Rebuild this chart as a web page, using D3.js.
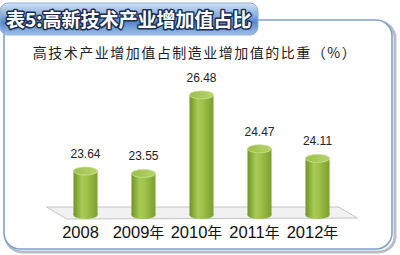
<!DOCTYPE html>
<html>
<head>
<meta charset="utf-8">
<script src="https://cdn.jsdelivr.net/npm/d3@7"></script>
<style>
  body { margin: 0; background: #fff; }
  svg { display: block; }
</style>
</head>
<body>
<div id="chart"></div>
<script>
// data
var years = ["2008", "2009年", "2010年", "2011年", "2012年"];
var values = [23.64, 23.55, 26.48, 24.47, 24.11];
var titleText = "表5:高新技术产业增加值占比";
var subTitle = "高技术产业增加值占制造业增加值的比重（%）";

var width = 400, height = 255;
var svg = d3.select("#chart").append("svg")
    .attr("width", width)
    .attr("height", height);

var defs = svg.append("defs");

// cylinder body gradient
var bodyGrad = defs.append("linearGradient").attr("id", "barBody")
    .attr("x1", "0%").attr("x2", "100%").attr("y1", "0%").attr("y2", "0%");
bodyGrad.append("stop").attr("offset", "0%").attr("stop-color", "#6f9426");
bodyGrad.append("stop").attr("offset", "35%").attr("stop-color", "#a9cb56");
bodyGrad.append("stop").attr("offset", "55%").attr("stop-color", "#9fc24a");
bodyGrad.append("stop").attr("offset", "100%").attr("stop-color", "#7c9f2e");

var topGrad = defs.append("linearGradient").attr("id", "barTop")
    .attr("x1", "0%").attr("x2", "100%").attr("y1", "0%").attr("y2", "0%");
topGrad.append("stop").attr("offset", "0%").attr("stop-color", "#9cbf4c");
topGrad.append("stop").attr("offset", "100%").attr("stop-color", "#b6d46c");

var bannerGrad = defs.append("linearGradient").attr("id", "banner")
    .attr("x1", "0%").attr("x2", "0%").attr("y1", "0%").attr("y2", "100%");
bannerGrad.append("stop").attr("offset", "0%").attr("stop-color", "#d2e2f4");
bannerGrad.append("stop").attr("offset", "40%").attr("stop-color", "#86acdd");
bannerGrad.append("stop").attr("offset", "60%").attr("stop-color", "#5587cc");
bannerGrad.append("stop").attr("offset", "100%").attr("stop-color", "#9dbfe8");

// panel with shadow
svg.append("rect")
    .attr("x", 6).attr("y", 22).attr("width", 389).attr("height", 230)
    .attr("rx", 16)
    .attr("fill", "none")
    .attr("stroke", "#b9bec6").attr("stroke-width", 3);
svg.append("rect")
    .attr("x", 4).attr("y", 20).attr("width", 388).attr("height", 229)
    .attr("rx", 16)
    .attr("fill", "#fff")
    .attr("stroke", "#7fa3cc").attr("stroke-width", 1.6);

// title banner
svg.append("rect")
    .attr("x", 0).attr("y", 3).attr("width", 258).attr("height", 32)
    .attr("rx", 8)
    .attr("fill", "url(#banner)")
    .attr("stroke", "#8fb0d8").attr("stroke-width", 1);

svg.append("text")
    .attr("x", 6).attr("y", 27)
    .attr("font-family", "Noto Sans CJK SC")
    .attr("font-weight", "bold")
    .attr("font-size", 19)
    .attr("fill", "#fff")
    .attr("stroke", "#1c2d52").attr("stroke-width", 3)
    .attr("paint-order", "stroke")
    .attr("stroke-linejoin", "round")
    .text(titleText);

svg.append("text")
    .attr("x", 195).attr("y", 58)
    .attr("text-anchor", "middle")
    .attr("font-family", "Noto Sans CJK SC")
    .attr("font-size", 14)
    .attr("letter-spacing", 1.5)
    .attr("fill", "#222")
    .text(subTitle);

// scales
var x = d3.scaleBand()
    .domain(years)
    .range([56.5, 346.5])
    .paddingInner(0.586)
    .paddingOuter(0.293);

var y = d3.scaleLinear()
    .domain([22, 27])
    .range([215, 81]);

var base = y(22);
var xr = x.range();

// floor plane
svg.append("path")
    .attr("d", "M" + (xr[0] - 10) + "," + (base - 8) +
        " L" + (xr[1] - 8) + "," + (base - 8) +
        " L" + (xr[1] + 11) + "," + (base + 3) +
        " L" + (xr[0] + 10) + "," + (base + 4) + " Z")
    .attr("fill", "#f1f1f1")
    .attr("stroke", "#c4c4c4").attr("stroke-width", 1);

var data = years.map(function (d, i) { return {year: d, value: values[i]}; });
var bw = x.bandwidth();
var ry = 4;

var bars = svg.selectAll(".bar")
    .data(data)
    .enter().append("g")
    .attr("class", "bar");

bars.append("ellipse")
    .attr("cx", function (d) { return x(d.year) + bw / 2; })
    .attr("cy", base)
    .attr("rx", bw / 2).attr("ry", ry)
    .attr("fill", "url(#barBody)");

bars.append("rect")
    .attr("x", function (d) { return x(d.year); })
    .attr("y", function (d) { return y(d.value); })
    .attr("width", bw)
    .attr("height", function (d) { return base - y(d.value); })
    .attr("fill", "url(#barBody)");

bars.append("ellipse")
    .attr("cx", function (d) { return x(d.year) + bw / 2; })
    .attr("cy", function (d) { return y(d.value); })
    .attr("rx", bw / 2).attr("ry", ry)
    .attr("fill", "url(#barTop)")
    .attr("stroke", "#c9e08e").attr("stroke-width", 0.8);

// value labels
bars.append("text")
    .attr("x", function (d) { return x(d.year) + bw / 2; })
    .attr("y", function (d) { return y(d.value) - 13; })
    .attr("text-anchor", "middle")
    .attr("font-family", "Liberation Sans")
    .attr("font-size", 12)
    .attr("fill", "#222")
    .text(function (d) { return d.value.toFixed(2); });

// category labels: digits plus a slightly smaller 年
var xl = svg.selectAll(".xlab")
    .data(years)
    .enter().append("text")
    .attr("class", "xlab")
    .attr("x", function (d) { return x(d) + bw / 2 - 5; })
    .attr("y", 238)
    .attr("text-anchor", "middle")
    .attr("font-family", "Liberation Sans")
    .attr("font-size", 16.5)
    .attr("fill", "#111");
xl.append("tspan").text(function (d) { return d.replace("年", ""); });
xl.append("tspan")
    .attr("font-family", "Noto Sans CJK SC")
    .attr("font-size", 15)
    .text(function (d) { return d.indexOf("年") >= 0 ? "年" : ""; });
</script>
</body>
</html>
